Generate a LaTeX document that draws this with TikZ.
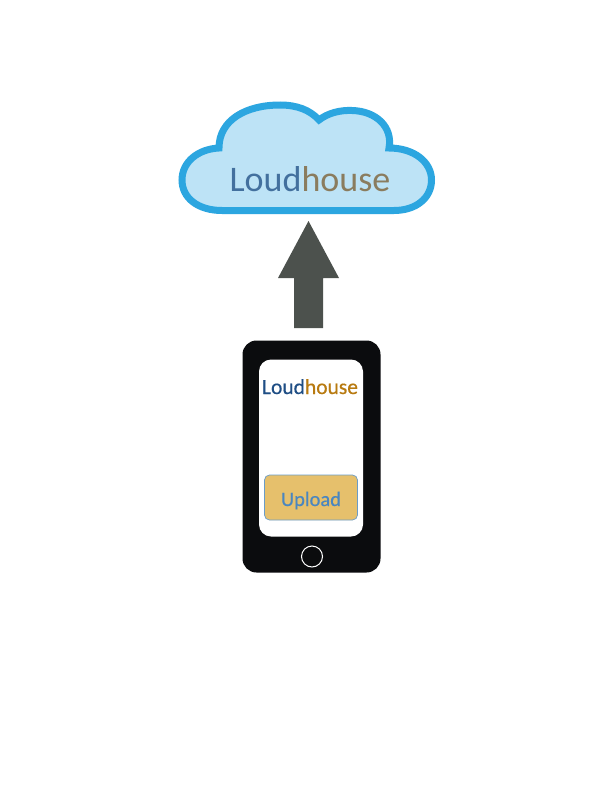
\documentclass[tikz,border=0pt]{standalone}
\usepackage{fontspec}
\setmainfont{Carlito}
\newfontfamily\semifont[FakeBold=0.5]{Carlito}
\definecolor{cloudedge}{HTML}{2CA6E0}
\definecolor{cloudfill}{HTML}{BDE3F6}
\definecolor{arrowcol}{HTML}{4C514D}
\definecolor{blueA}{HTML}{43709E}
\definecolor{brownA}{HTML}{8A7C5E}
\definecolor{blueB}{HTML}{1F4E85}
\definecolor{brownB}{HTML}{B87A10}
\definecolor{btn}{HTML}{E6C06C}
\definecolor{btntext}{HTML}{4A86C0}
\definecolor{btnedge}{HTML}{6A9CC8}
\definecolor{phone}{HTML}{0B0C0E}
\begin{document}
\begin{tikzpicture}[x=1pt,y=-1pt,
 lbl/.style={inner sep=0pt,anchor=base}]
\useasboundingbox (0,0) rectangle (612,792);
\fill[white] (0,0) rectangle (612,792);
% cloud
\draw[cloudedge,fill=cloudfill,line width=7pt,line join=miter]
 (222,210.5) .. controls (198,210.5) and (182,198) .. (182,180)
 .. controls (182,162) and (198,149) .. (219,148)
 .. controls (219,120) and (246,105) .. (280,105)
 .. controls (297,105) and (310,110) .. (319,120)
 .. controls (328,113) and (340,110) .. (352,110.5)
 .. controls (376,111) and (393,127) .. (389,148)
 .. controls (414,148) and (431.5,162) .. (431.5,180)
 .. controls (431.5,198) and (416,210.5) .. (394,210.5) -- cycle;
\node[lbl,font=\fontsize{36}{36}\selectfont] (cloudtext) at (310,191) {\textcolor{blueA}{Loud}\textcolor{brownA}{house}};
% phone
\node[fill=phone,rounded corners=14pt,minimum width=138pt,minimum height=232pt,inner sep=0pt] (body) at (311.5,456.5) {};
\node[fill=white,rounded corners=12pt,minimum width=104pt,minimum height=177pt,inner sep=0pt] (screen) at (311,448) {};
\node[lbl,font=\semifont\fontsize{21.5}{21.5}\selectfont] (phonetext) at (310,394) {\textcolor{blueB}{Loud}\textcolor{brownB}{house}};
\node[fill=btn,draw=btnedge,line width=.7pt,rounded corners=5pt,minimum width=93pt,minimum height=45pt,inner sep=0pt] (upload) at (311,497.5) {};
\node[lbl,font=\semifont\fontsize{20.5}{20.5}\selectfont,text=btntext] (uploadtext) at (311,506) {Upload};
\node[circle,draw=white,line width=1pt,minimum size=21pt,inner sep=0pt] (home) at (312,556.5) {};
% arrow
\fill[arrowcol] (294,328) -- (294,278) -- (278,278) -- (308.5,221) -- (339,278) -- (323,278) -- (323,328) -- cycle;
\end{tikzpicture}
\end{document}
